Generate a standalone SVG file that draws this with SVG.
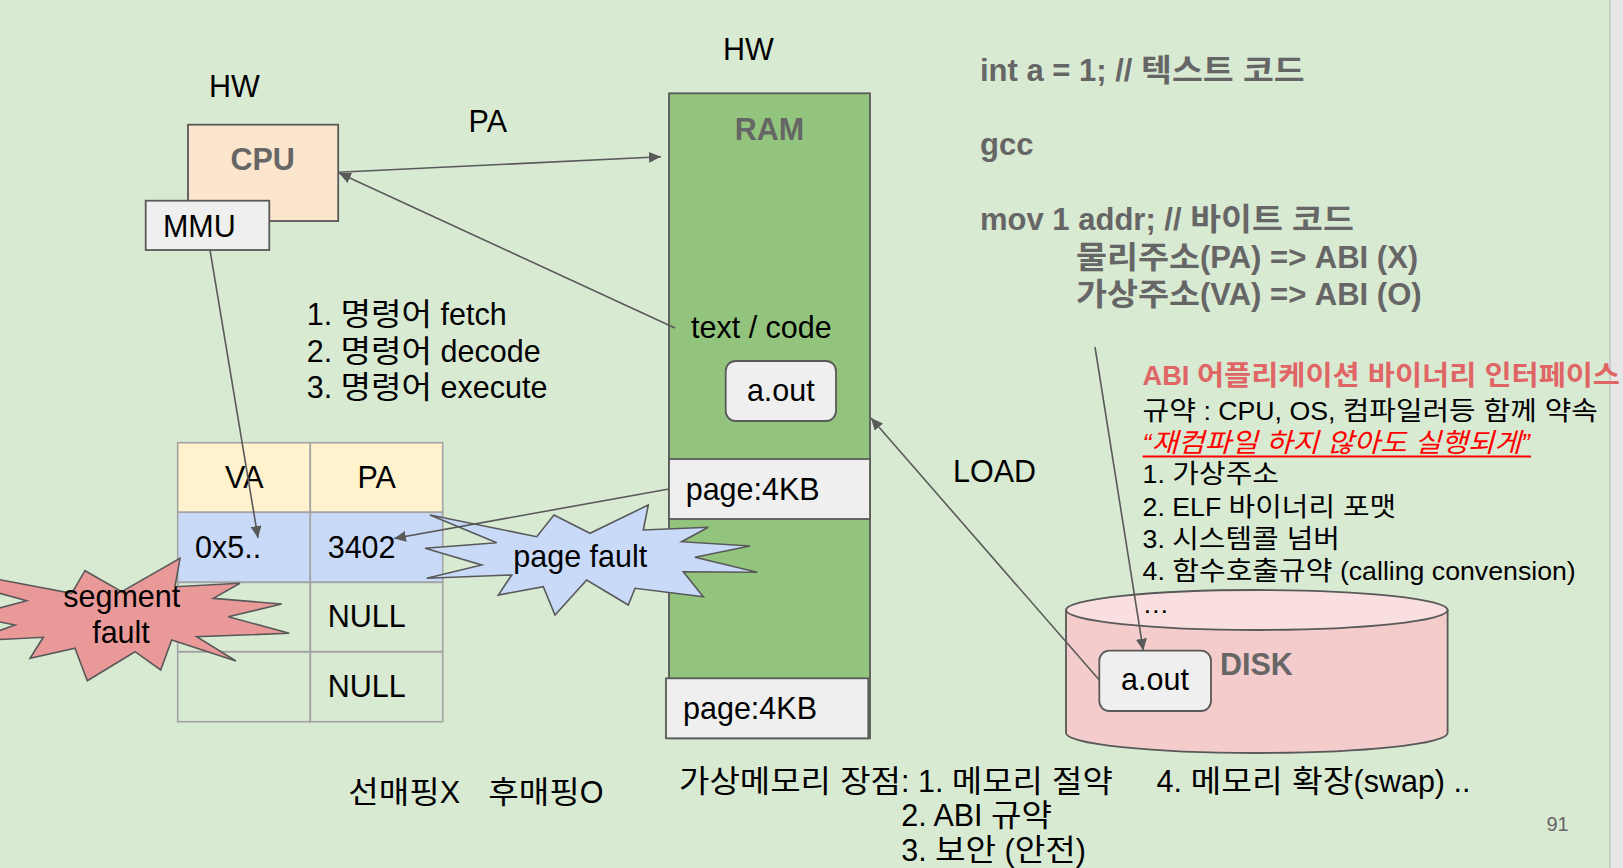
<svg xmlns="http://www.w3.org/2000/svg" width="1623" height="868" viewBox="0 0 1623 868">
<defs>
<marker id="ah" markerUnits="userSpaceOnUse" markerWidth="13" markerHeight="12" refX="12" refY="5.5" orient="auto">
<path d="M0,0 L12,5.5 L0,11 z" fill="#595959"/>
</marker>
<style>
text{font-family:"Liberation Sans","Noto Sans CJK KR",sans-serif;fill:#000;font-size:30.5px}
.b{font-weight:bold;fill:#666}
.box{stroke:#595959;stroke-width:1.8}
.cell{stroke:#a3a3a3;stroke-width:1.6}
.con{stroke:#595959;stroke-width:1.6;fill:none;marker-end:url(#ah)}
.star{stroke:#595959;stroke-width:1.6}
.abi{font-size:26.7px}
.code{font-size:31px}
.c{text-anchor:middle}
</style>
</defs>
<rect x="0" y="0" width="1623" height="868" fill="#d9ead3"/>
<rect x="1610" y="0" width="13" height="868" fill="#e6e6e6"/>
<line x1="1610" y1="0" x2="1610" y2="868" stroke="#c3c3c3" stroke-width="1.5"/>

<g id="hw-left"><text x="209" y="96.7">HW</text></g>
<g id="hw-top"><text x="723" y="60">HW</text></g>
<g id="pa-label"><text x="468.6" y="131.7">PA</text></g>
<g id="load-label"><text x="953" y="481.7">LOAD</text></g>

<g id="cpu">
<rect class="box" x="188" y="124.7" width="150.2" height="96.3" fill="#fce5cd"/>
<text class="b c" x="262.6" y="170">CPU</text>
</g>
<g id="mmu">
<rect class="box" x="145.7" y="200.7" width="123.6" height="49.3" fill="#efefef"/>
<text x="162.9" y="236.7">MMU</text>
</g>

<g id="ram">
<rect class="box" x="669" y="93.3" width="201" height="645" fill="#93c47d"/>
<text class="b c" x="769.5" y="140">RAM</text>
<text x="691" y="338.3">text / code</text>
<rect class="box" x="725.7" y="361" width="110.3" height="60" rx="10" fill="#efefef"/>
<text class="c" x="780.8" y="401">a.out</text>
<rect class="box" x="669" y="459" width="201" height="60" fill="#efefef"/>
<text x="685.7" y="500">page:4KB</text>
<rect class="box" x="666" y="678.3" width="202.3" height="60" fill="#efefef"/>
<text x="683" y="719">page:4KB</text>
</g>

<g id="instructions">
<text x="306.7" y="325">1. <tspan textLength="91.5" lengthAdjust="spacingAndGlyphs">명령어</tspan> fetch</text>
<text x="306.7" y="361.7">2. <tspan textLength="91.5" lengthAdjust="spacingAndGlyphs">명령어</tspan> decode</text>
<text x="306.7" y="398.3">3. <tspan textLength="91.5" lengthAdjust="spacingAndGlyphs">명령어</tspan> execute</text>
</g>

<g id="page-table">
<rect class="cell" x="177.7" y="442.7" width="132.6" height="69.6" fill="#fff2cc"/>
<rect class="cell" x="310.3" y="442.7" width="132.4" height="69.6" fill="#fff2cc"/>
<rect class="cell" x="177.7" y="512.3" width="132.6" height="70" fill="#c9daf8"/>
<rect class="cell" x="310.3" y="512.3" width="132.4" height="70" fill="#c9daf8"/>
<rect class="cell" x="177.7" y="582.3" width="132.6" height="69.4" fill="none"/>
<rect class="cell" x="310.3" y="582.3" width="132.4" height="69.4" fill="none"/>
<rect class="cell" x="177.7" y="651.7" width="132.6" height="70" fill="none"/>
<rect class="cell" x="310.3" y="651.7" width="132.4" height="70" fill="none"/>
<text class="c" x="244.3" y="488.3">VA</text>
<text class="c" x="376.7" y="488.3">PA</text>
<text x="195" y="558.3">0x5..</text>
<text x="327.7" y="558.3">3402</text>
<text x="327.7" y="626.7">NULL</text>
<text x="327.7" y="696.7">NULL</text>
</g>

<g id="segment-fault">
<polygon class="star" fill="#ea9999" points="-30,574 71.7,593.3 85,570.7 121.7,591.7 180,558.3 175,586.7 240,583.3 213.3,598.3 281.7,604 228.3,616.7 289.3,633.3 196.7,636.7 236,661 171.7,640 160.7,670 135,651.7 87.3,680.7 75,648.3 30,658.3 43.3,637.3 -30,641 15,625 -30,616 26.7,600.7 -30,585"/>
<text class="c" x="121.7" y="606.7">segment</text>
<text class="c" x="121" y="643.3">fault</text>
</g>

<g id="page-fault">
<polygon class="star" fill="#c9daf8" points="430,515 496.7,542.7 425,548.3 481.7,565 426.7,578.3 511.7,575 498.3,595 543.3,586.7 555,615 586.7,580 628.3,605 635,588.3 703.3,596.7 683.3,571.7 757.3,572.3 695,557.3 750,546 681.7,541.7 708.3,527.3 643.3,530 648.3,505 590,533.3 554,515 536.7,536.7"/>
<text x="513.3" y="566.7">page fault</text>
</g>

<g id="code-notes">
<text class="b code" x="980" y="80.7">int a = 1; // <tspan textLength="163.6" lengthAdjust="spacingAndGlyphs">텍스트 코드</tspan></text>
<text class="b code" x="980" y="155">gcc</text>
<text class="b code" x="980" y="230">mov 1 addr; // <tspan textLength="163.6" lengthAdjust="spacingAndGlyphs">바이트 코드</tspan></text>
<text class="b code" x="1076" y="268.3"><tspan textLength="124" lengthAdjust="spacingAndGlyphs">물리주소</tspan>(PA) =&gt; ABI (X)</text>
<text class="b code" x="1076" y="305"><tspan textLength="124" lengthAdjust="spacingAndGlyphs">가상주소</tspan>(VA) =&gt; ABI (O)</text>
</g>

<g id="disk">
<path class="box" d="M1066,610 L1066,733 A190.8,20 0 0 0 1447.6,733 L1447.6,610 Z" fill="#f4cccc"/>
<ellipse class="box" cx="1256.8" cy="610" rx="190.8" ry="20" fill="#f9dfdf"/>
<text class="b" x="1220" y="675">DISK</text>
<rect class="box" x="1099.3" y="650.7" width="111.7" height="60.3" rx="10" fill="#efefef"/>
<text class="c" x="1155" y="690">a.out</text>
</g>

<g id="abi">
<text x="1142.6" y="385" style="font-weight:bold;fill:#e06666;font-size:27.2px">ABI <tspan textLength="423" lengthAdjust="spacingAndGlyphs">어플리케이션 바이너리 인터페이스</tspan></text>
<text class="abi" x="1142.6" y="420"><tspan textLength="53.4" lengthAdjust="spacingAndGlyphs">규약</tspan> : CPU, OS, <tspan textLength="255" lengthAdjust="spacingAndGlyphs">컴파일러등 함께 약속</tspan></text>
<text class="abi" x="1142.6" y="451.7" style="fill:#ff0000;font-style:italic">“<tspan textLength="369.4" lengthAdjust="spacingAndGlyphs">재컴파일 하지 않아도 실행되게</tspan>”</text>
<line x1="1142.6" y1="456.5" x2="1531" y2="456.5" stroke="#ff0000" stroke-width="2"/>
<text class="abi" x="1142.6" y="483.3">1. <tspan textLength="106.8" lengthAdjust="spacingAndGlyphs">가상주소</tspan></text>
<text class="abi" x="1142.6" y="515.7">2. ELF <tspan textLength="167.6" lengthAdjust="spacingAndGlyphs">바이너리 포맷</tspan></text>
<text class="abi" x="1142.6" y="548.3">3. <tspan textLength="167.6" lengthAdjust="spacingAndGlyphs">시스템콜 넘버</tspan></text>
<text class="abi" x="1142.6" y="580">4. <tspan textLength="160.2" lengthAdjust="spacingAndGlyphs">함수호출규약</tspan> (calling convension)</text>
<text class="abi" x="1142.6" y="613.3">…</text>
</g>

<g id="mapping-note">
<text x="348.3" y="803.3"><tspan textLength="91.5" lengthAdjust="spacingAndGlyphs">선매핑</tspan>X</text>
<text x="488.3" y="803.3"><tspan textLength="91.5" lengthAdjust="spacingAndGlyphs">후매핑</tspan>O</text>
</g>

<g id="vm-benefits">
<text x="679" y="792"><tspan textLength="222" lengthAdjust="spacingAndGlyphs">가상메모리 장점</tspan>: 1. <tspan textLength="161" lengthAdjust="spacingAndGlyphs">메모리 절약</tspan></text>
<text x="1156.6" y="792">4. <tspan textLength="163" lengthAdjust="spacingAndGlyphs">메모리 확장</tspan>(swap) ..</text>
<text x="901.2" y="826">2. ABI <tspan textLength="61" lengthAdjust="spacingAndGlyphs">규약</tspan></text>
<text x="901.2" y="861">3. <tspan textLength="61" lengthAdjust="spacingAndGlyphs">보안</tspan> (<tspan textLength="61" lengthAdjust="spacingAndGlyphs">안전</tspan>)</text>
</g>

<g id="page-number"><text x="1546.5" y="831" style="font-size:20px;fill:#666">91</text></g>

<g id="connectors">
<line class="con" x1="338.2" y1="172.3" x2="661" y2="156.7"/>
<line class="con" x1="675" y1="328" x2="339" y2="173"/>
<line class="con" x1="210" y1="250" x2="258" y2="538"/>
<line class="con" x1="669" y1="489" x2="394" y2="538.5"/>
<line class="con" x1="1099.3" y1="680" x2="871" y2="418"/>
<line class="con" x1="1095" y1="347" x2="1143.3" y2="650.7"/>
</g>
</svg>
